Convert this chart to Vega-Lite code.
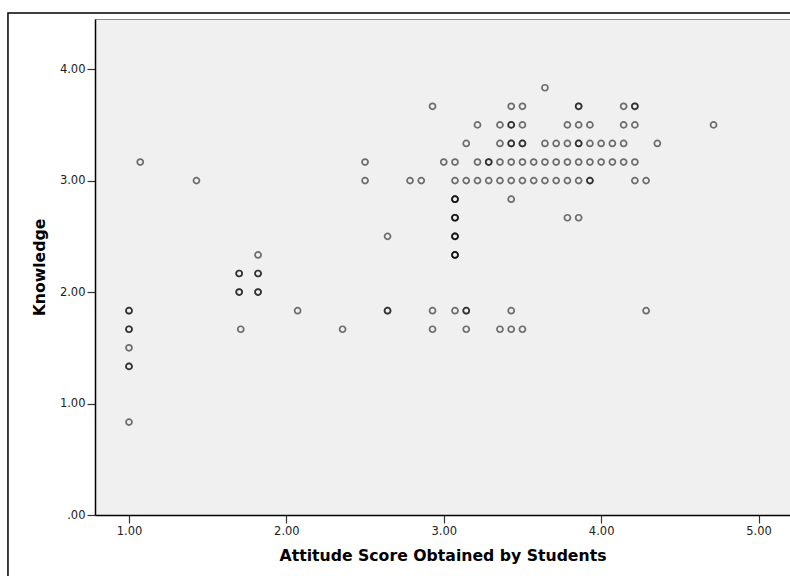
{
  "$schema": "https://vega.github.io/schema/vega-lite/v6.json",
  "width": 695,
  "height": 496,
  "autosize": {"type": "none"},
  "padding": {"left": 95, "top": 19, "right": 0, "bottom": 61},
  "background": "white",
  "config": {
    "view": {"fill": "#f0f0f0", "stroke": "#8a8a8a", "strokeWidth": 1},
    "axis": {
      "labelFont": "DejaVu Sans",
      "labelFontSize": 11.5,
      "labelColor": "#222222",
      "titleFont": "DejaVu Sans",
      "titleFontSize": 15.7,
      "titleFontWeight": "bold",
      "titleColor": "#000000",
      "domainColor": "#000000",
      "domainWidth": 1.5,
      "tickColor": "#333333",
      "tickWidth": 1.2,
      "grid": false
    }
  },
  "datasets": {
    "students": [
      {"a": 1.0, "k": 1.8333}, {"a": 1.0, "k": 1.8333},
      {"a": 1.0, "k": 1.6667}, {"a": 1.0, "k": 1.6667},
      {"a": 1.0, "k": 1.5},
      {"a": 1.0, "k": 1.3333}, {"a": 1.0, "k": 1.3333},
      {"a": 1.0, "k": 0.8333},
      {"a": 1.0714, "k": 3.1667},
      {"a": 1.4286, "k": 3.0},
      {"a": 1.70, "k": 2.1667}, {"a": 1.70, "k": 2.1667},
      {"a": 1.70, "k": 2.0}, {"a": 1.70, "k": 2.0},
      {"a": 1.71, "k": 1.6667},
      {"a": 1.82, "k": 2.3333},
      {"a": 1.82, "k": 2.1667}, {"a": 1.82, "k": 2.1667},
      {"a": 1.82, "k": 2.0}, {"a": 1.82, "k": 2.0},
      {"a": 2.0714, "k": 1.8333},
      {"a": 2.3571, "k": 1.6667},
      {"a": 2.5, "k": 3.1667},
      {"a": 2.5, "k": 3.0},
      {"a": 2.6429, "k": 2.5},
      {"a": 2.6429, "k": 1.8333}, {"a": 2.6429, "k": 1.8333},
      {"a": 2.7857, "k": 3.0},
      {"a": 2.8571, "k": 3.0},
      {"a": 2.9286, "k": 3.6667},
      {"a": 2.9286, "k": 1.8333},
      {"a": 2.9286, "k": 1.6667},
      {"a": 3.0, "k": 3.1667},
      {"a": 3.0714, "k": 3.1667},
      {"a": 3.0714, "k": 3.0},
      {"a": 3.0714, "k": 2.8333}, {"a": 3.0714, "k": 2.8333}, {"a": 3.0714, "k": 2.8333},
      {"a": 3.0714, "k": 2.6667}, {"a": 3.0714, "k": 2.6667}, {"a": 3.0714, "k": 2.6667},
      {"a": 3.0714, "k": 2.5}, {"a": 3.0714, "k": 2.5}, {"a": 3.0714, "k": 2.5},
      {"a": 3.0714, "k": 2.3333}, {"a": 3.0714, "k": 2.3333}, {"a": 3.0714, "k": 2.3333},
      {"a": 3.0714, "k": 1.8333},
      {"a": 3.1429, "k": 3.3333},
      {"a": 3.1429, "k": 3.0},
      {"a": 3.1429, "k": 1.8333}, {"a": 3.1429, "k": 1.8333},
      {"a": 3.1429, "k": 1.6667},
      {"a": 3.2143, "k": 3.5},
      {"a": 3.2143, "k": 3.1667},
      {"a": 3.2143, "k": 3.0},
      {"a": 3.2857, "k": 3.1667}, {"a": 3.2857, "k": 3.1667},
      {"a": 3.2857, "k": 3.0},
      {"a": 3.3571, "k": 3.5},
      {"a": 3.3571, "k": 3.3333},
      {"a": 3.3571, "k": 3.1667},
      {"a": 3.3571, "k": 3.0},
      {"a": 3.3571, "k": 1.6667},
      {"a": 3.4286, "k": 3.6667},
      {"a": 3.4286, "k": 3.5}, {"a": 3.4286, "k": 3.5},
      {"a": 3.4286, "k": 3.3333}, {"a": 3.4286, "k": 3.3333},
      {"a": 3.4286, "k": 3.1667},
      {"a": 3.4286, "k": 3.0},
      {"a": 3.4286, "k": 2.8333},
      {"a": 3.4286, "k": 1.8333},
      {"a": 3.4286, "k": 1.6667},
      {"a": 3.5, "k": 3.6667},
      {"a": 3.5, "k": 3.5},
      {"a": 3.5, "k": 3.3333}, {"a": 3.5, "k": 3.3333},
      {"a": 3.5, "k": 3.1667},
      {"a": 3.5, "k": 3.0},
      {"a": 3.5, "k": 1.6667},
      {"a": 3.5714, "k": 3.1667},
      {"a": 3.5714, "k": 3.0},
      {"a": 3.6429, "k": 3.8333},
      {"a": 3.6429, "k": 3.3333},
      {"a": 3.6429, "k": 3.1667},
      {"a": 3.6429, "k": 3.0},
      {"a": 3.7143, "k": 3.3333},
      {"a": 3.7143, "k": 3.1667},
      {"a": 3.7143, "k": 3.0},
      {"a": 3.7857, "k": 3.5},
      {"a": 3.7857, "k": 3.3333},
      {"a": 3.7857, "k": 3.1667},
      {"a": 3.7857, "k": 3.0},
      {"a": 3.7857, "k": 2.6667},
      {"a": 3.8571, "k": 3.6667}, {"a": 3.8571, "k": 3.6667},
      {"a": 3.8571, "k": 3.5},
      {"a": 3.8571, "k": 3.3333}, {"a": 3.8571, "k": 3.3333},
      {"a": 3.8571, "k": 3.1667},
      {"a": 3.8571, "k": 3.0},
      {"a": 3.8571, "k": 2.6667},
      {"a": 3.9286, "k": 3.5},
      {"a": 3.9286, "k": 3.3333},
      {"a": 3.9286, "k": 3.1667},
      {"a": 3.9286, "k": 3.0}, {"a": 3.9286, "k": 3.0},
      {"a": 4.0, "k": 3.3333},
      {"a": 4.0, "k": 3.1667},
      {"a": 4.0714, "k": 3.3333},
      {"a": 4.0714, "k": 3.1667},
      {"a": 4.1429, "k": 3.6667},
      {"a": 4.1429, "k": 3.5},
      {"a": 4.1429, "k": 3.3333},
      {"a": 4.1429, "k": 3.1667},
      {"a": 4.2143, "k": 3.6667}, {"a": 4.2143, "k": 3.6667},
      {"a": 4.2143, "k": 3.5},
      {"a": 4.2143, "k": 3.1667},
      {"a": 4.2143, "k": 3.0},
      {"a": 4.2857, "k": 3.0},
      {"a": 4.2857, "k": 1.8333},
      {"a": 4.3571, "k": 3.3333},
      {"a": 4.7143, "k": 3.5}
    ],
    "frame": [{}]
  },
  "layer": [
    {
      "data": {"name": "frame"},
      "mark": {"type": "rect", "filled": false, "stroke": "#000000", "strokeWidth": 1.5, "clip": false},
      "encoding": {
        "x": {"datum": 0.231, "type": "quantitative"},
        "x2": {"datum": 7},
        "y": {"datum": 4.504, "type": "quantitative"},
        "y2": {"datum": -2}
      }
    },
    {
      "data": {"name": "students"},
      "mark": {"type": "point", "shape": "circle", "filled": false, "size": 36, "stroke": "#000000", "strokeWidth": 1.7, "strokeOpacity": 0.78},
      "encoding": {
        "x": {
          "field": "a",
          "type": "quantitative",
          "scale": {"domain": [0.784, 5.2], "nice": false, "zero": false},
          "axis": {
            "title": "Attitude Score Obtained by Students",
            "values": [1, 2, 3, 4, 5],
            "labelExpr": "format(datum.value, '.2f')",
            "tickSize": 8,
            "labelPadding": 2,
            "titlePadding": 12
          }
        },
        "y": {
          "field": "k",
          "type": "quantitative",
          "scale": {"domain": [0, 4.45], "nice": false, "zero": true},
          "axis": {
            "title": "Knowledge",
            "values": [0, 1, 2, 3, 4],
            "labelExpr": "datum.value === 0 ? '.00' : format(datum.value, '.2f')",
            "tickSize": 8,
            "labelPadding": 2,
            "titlePadding": 12
          }
        }
      }
    }
  ]
}
